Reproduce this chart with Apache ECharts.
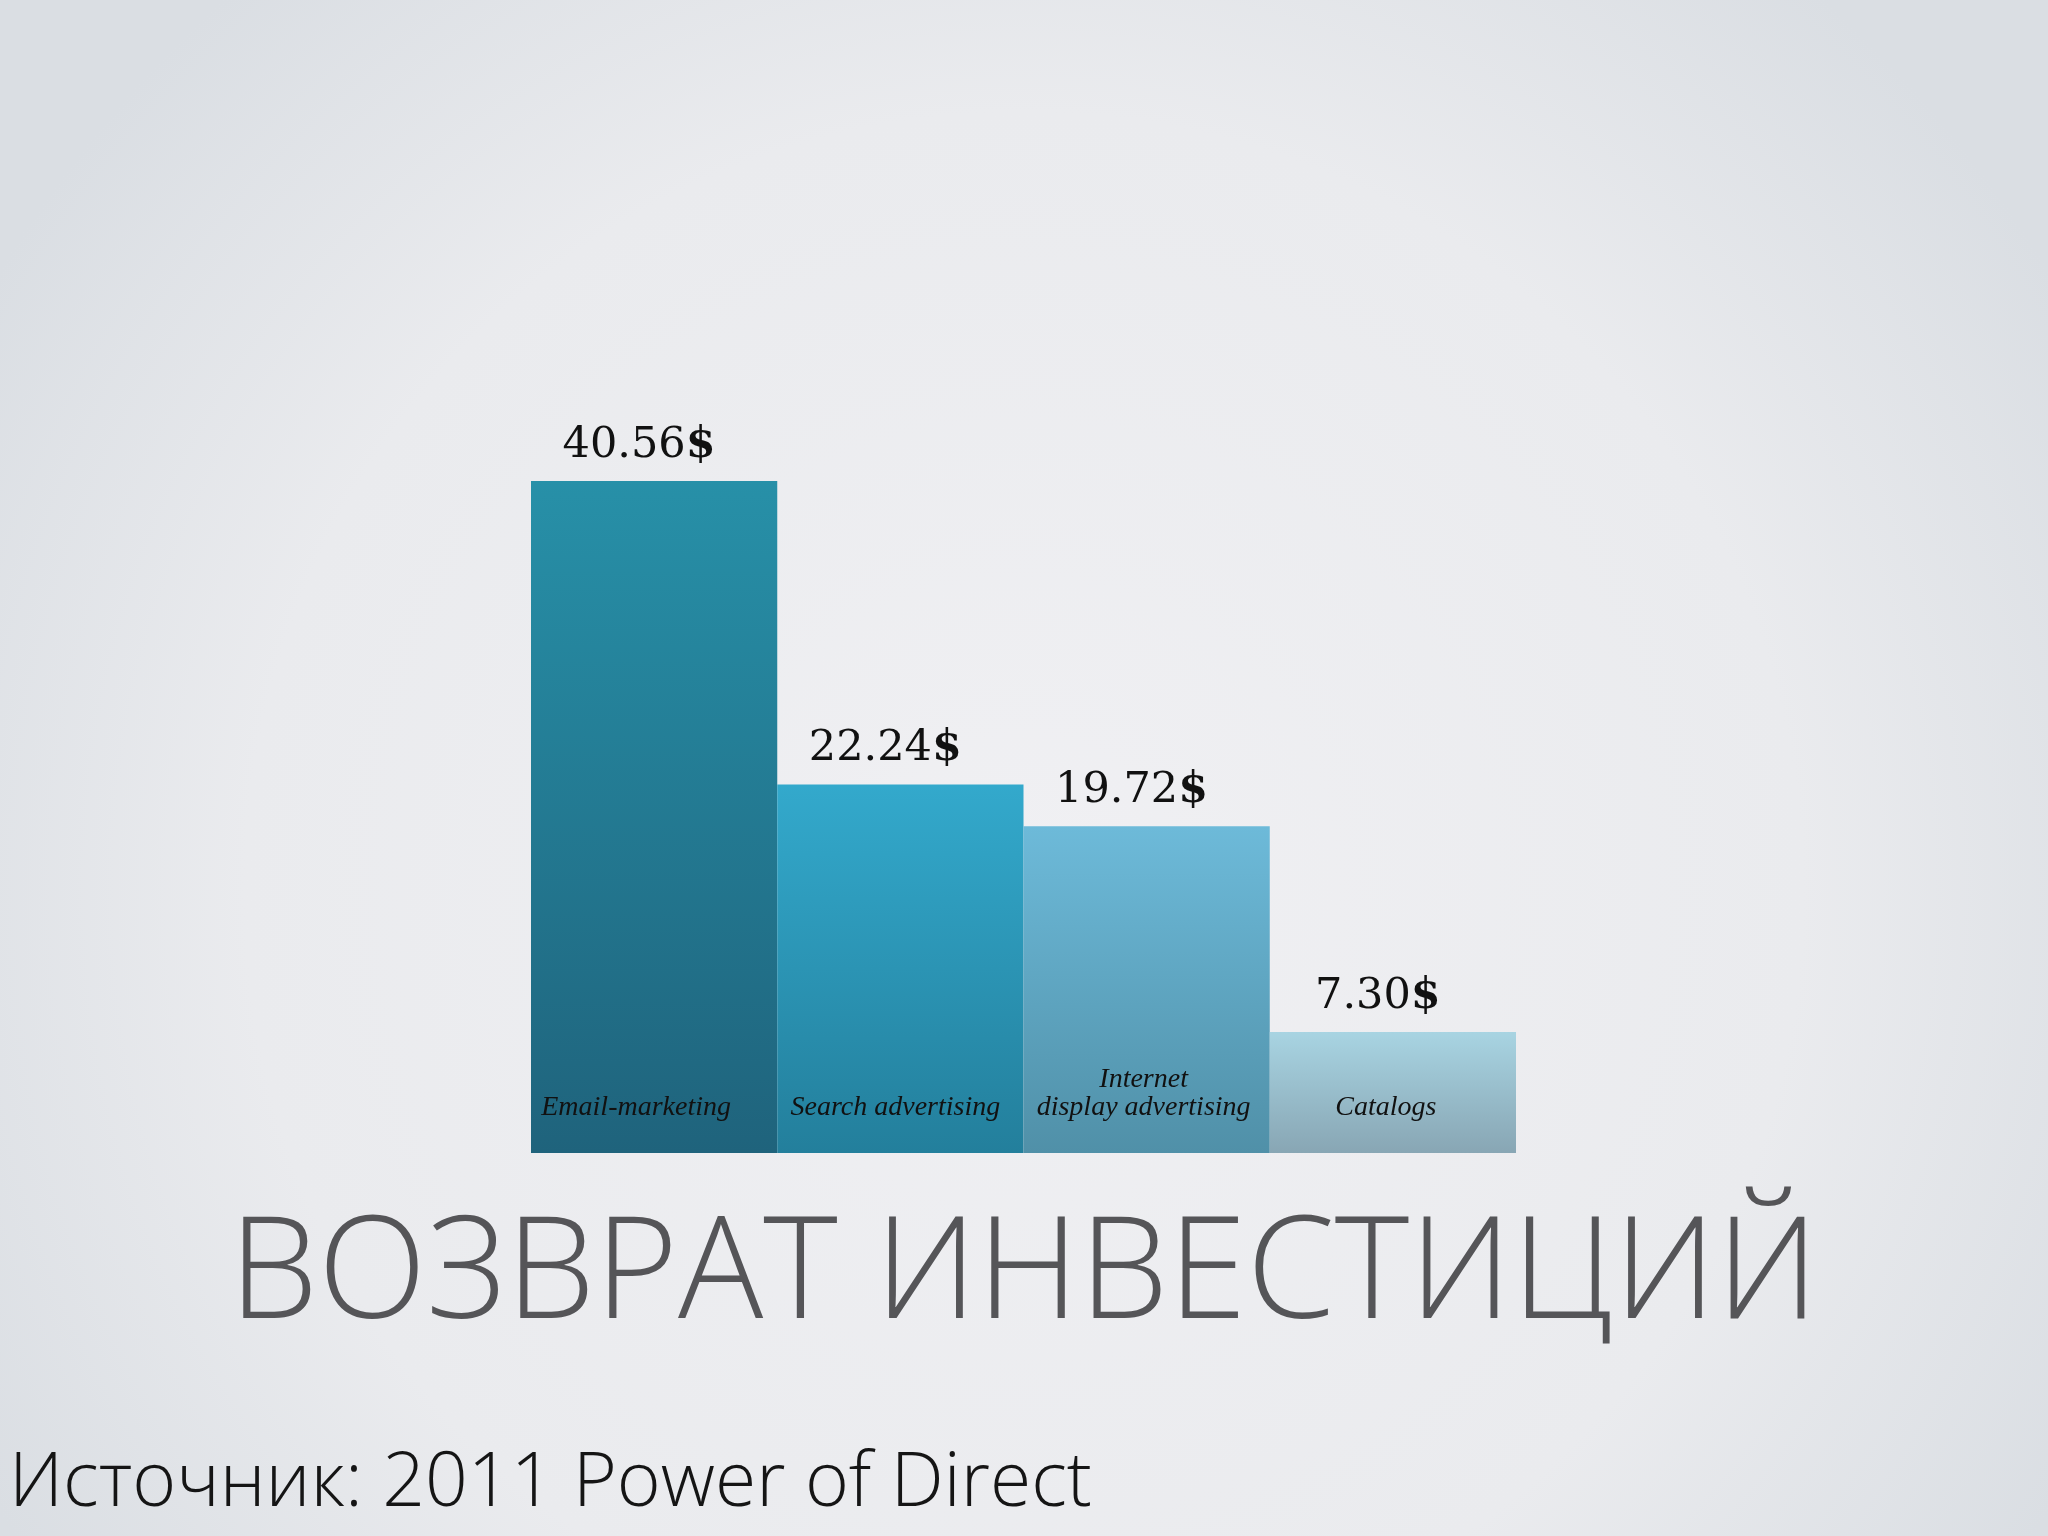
<!DOCTYPE html>
<html>
<head>
<meta charset="utf-8">
<style>
html,body{margin:0;padding:0;width:2048px;height:1536px;overflow:hidden;}
#c{width:2048px;height:1536px;}
</style>
<script src="https://cdn.jsdelivr.net/npm/echarts@6/dist/echarts.min.js"></script>
</head>
<body>
<div id="c"></div>
<script>
const categories = ['Email-marketing', 'Search advertising', 'Internet\ndisplay advertising', 'Catalogs'];
const values = [40.56, 22.24, 19.72, 7.30];
const valueLabels = ['40.56', '22.24', '19.72', '7.30'];
const barTopColors = ['#2790a8', '#33a9cc', '#6dbad9', '#a8d4e2'];
const barBottomColors = ['#1f637c', '#237f9c', '#5090a8', '#88a6b4'];
const titleText = 'ВОЗВРАТ ИНВЕСТИЦИЙ';
const sourceText = 'Источник: 2011 Power of Direct';

// horizontal nudges of the in-bar category labels (style only)
const catLabelShift = [-18, -5, -3, -7];

const chart = echarts.init(document.getElementById('c'));

const data = values.map((v, i) => ({
  value: v,
  itemStyle: {
    color: new echarts.graphic.LinearGradient(0, 0, 0, 1, [
      { offset: 0, color: barTopColors[i] },
      { offset: 1, color: barBottomColors[i] }
    ])
  }
}));

const labelData = values.map((v, i) => ({
  value: v,
  label: { offset: [catLabelShift[i], 0] }
}));

chart.setOption({
  backgroundColor: new echarts.graphic.RadialGradient(0.5, 0.58, 0.78, [
    { offset: 0, color: '#f0f0f3' },
    { offset: 0.65, color: '#eaebee' },
    { offset: 1, color: '#dadee3' }
  ]),
  animation: false,
  grid: { left: 531, right: 532, top: 481, bottom: 383 },
  xAxis: {
    type: 'category',
    data: categories,
    axisLine: { show: false },
    axisTick: { show: false },
    axisLabel: { show: false }
  },
  yAxis: {
    type: 'value',
    min: 0,
    max: 'dataMax',
    show: false,
    splitLine: { show: false }
  },
  series: [
    {
      type: 'bar',
      data: data,
      barCategoryGap: '0%',
      label: {
        show: true,
        position: 'top',
        distance: 14,
        offset: [-15, 0],
        formatter: p => '{n|' + valueLabels[p.dataIndex] + '}{d|$}',
        rich: {
          n: { fontFamily: 'DejaVu Serif', fontSize: 43, color: '#111' },
          d: { fontFamily: 'DejaVu Serif', fontSize: 43, fontWeight: 'bold', color: '#111' }
        }
      }
    },
    {
      type: 'bar',
      data: labelData,
      barGap: '-100%',
      barCategoryGap: '0%',
      itemStyle: { color: 'rgba(0,0,0,0)' },
      silent: true,
      label: {
        show: true,
        position: 'insideBottom',
        distance: 31,
        formatter: p => categories[p.dataIndex],
        fontFamily: 'Liberation Serif',
        fontStyle: 'italic',
        fontSize: 28,
        lineHeight: 28,
        color: '#111',
        align: 'center'
      }
    }
  ],
  graphic: [
    {
      type: 'text',
      left: 229,
      top: 1207,
      style: {
        text: titleText,
        fontFamily: 'Open Sans',
        fontWeight: 300,
        fontSize: 142,
        fill: '#555558'
      }
    },
    {
      type: 'text',
      left: 9,
      top: 1447,
      style: {
        text: sourceText,
        fontFamily: 'Open Sans',
        fontWeight: 300,
        fontSize: 75,
        fill: '#151515'
      }
    }
  ]
});
</script>
</body>
</html>
